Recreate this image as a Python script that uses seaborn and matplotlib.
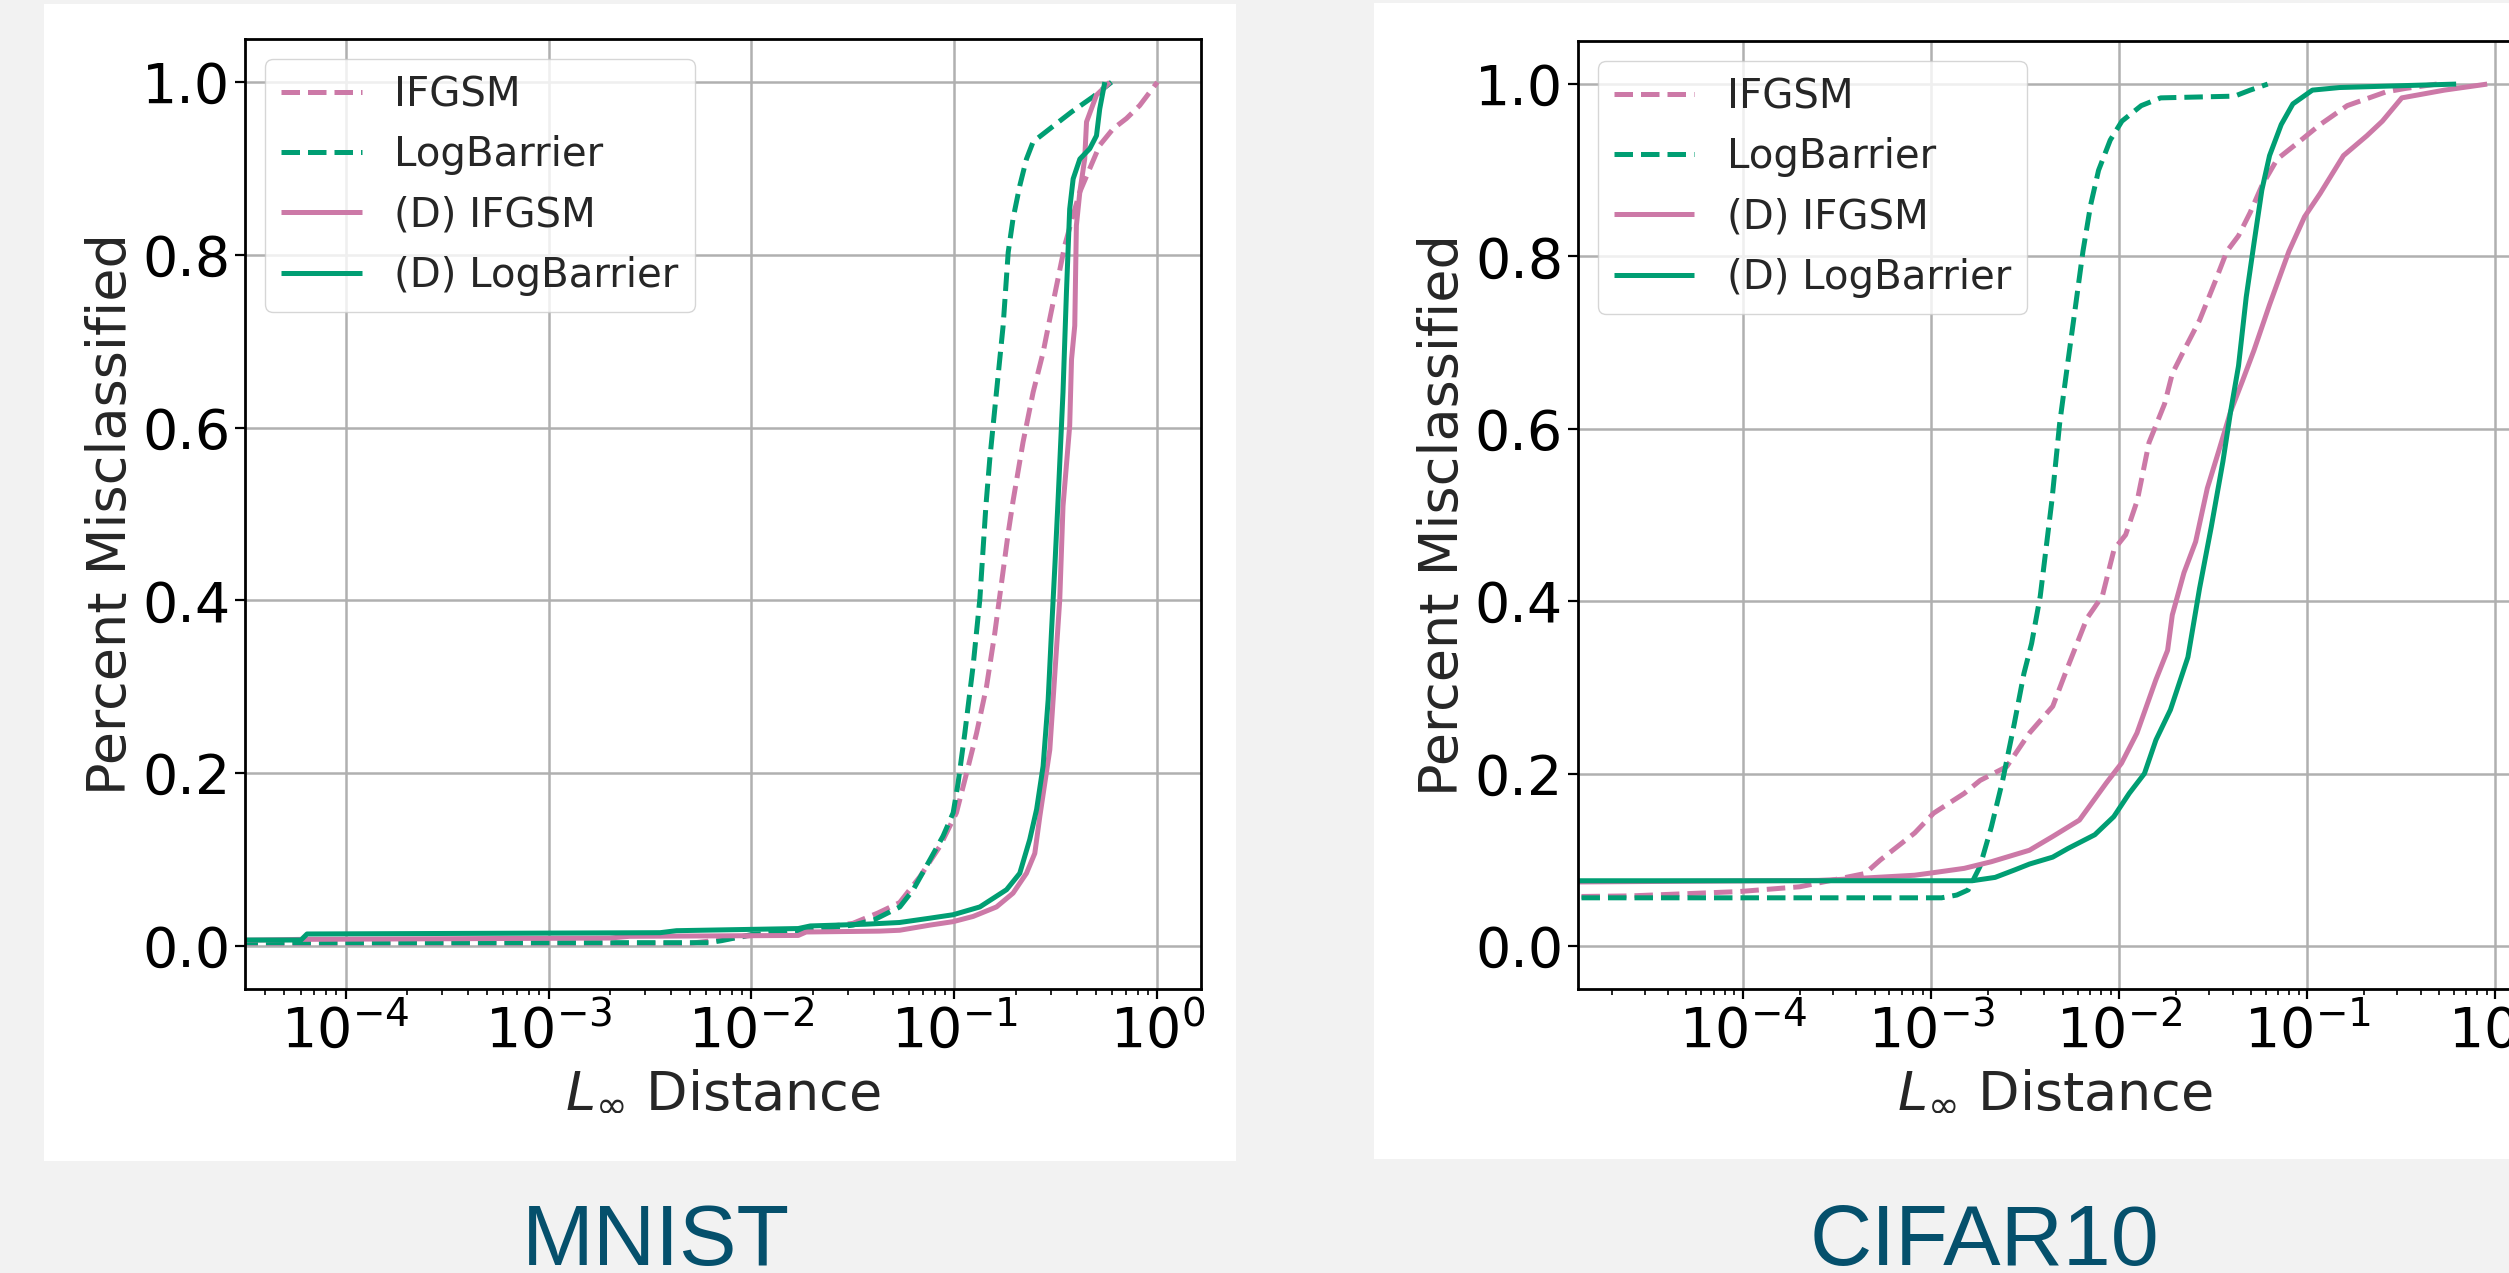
import numpy as np  # numeric helpers
import matplotlib
matplotlib.use("Agg")
import matplotlib.pyplot as plt  # figure and axes
from matplotlib.patches import Rectangle  # white panels behind the plots
import seaborn as sns  # line drawing

# ---- MNIST curves (L_inf distance, fraction misclassified) ----
mnist_ifgsm_x = [3e-5, 0.00501, 0.00708, 0.0100, 0.0200, 0.0316, 0.0420, 0.0537, 0.0676, 0.0847,
                 0.1023, 0.1148, 0.1285, 0.1439, 0.1581, 0.1706, 0.1841, 0.1945, 0.2178, 0.2443,
                 0.2735, 0.2951, 0.3184, 0.3499, 0.3846, 0.4150, 0.4645, 0.5200, 0.6053, 0.7047,
                 0.8185, 1.0]
mnist_ifgsm_y = [0.003, 0.003, 0.007, 0.012, 0.020, 0.026, 0.038, 0.050, 0.080, 0.115,
                 0.154, 0.200, 0.246, 0.300, 0.362, 0.420, 0.478, 0.515, 0.583, 0.641,
                 0.687, 0.726, 0.764, 0.811, 0.846, 0.873, 0.900, 0.927, 0.946, 0.958,
                 0.973, 1.0]

mnist_logb_x = [3e-5, 0.00615, 0.00714, 0.0100, 0.0196, 0.0316, 0.0401, 0.0538, 0.0627, 0.0757,
                0.0879, 0.0986, 0.1042, 0.1125, 0.1236, 0.1334, 0.1429, 0.1493, 0.1611, 0.1738,
                0.1841, 0.1945, 0.2099, 0.2265, 0.2443, 0.2951, 0.3776, 0.4819, 0.5943]
mnist_logb_y = [0.0036, 0.0036, 0.006, 0.013, 0.018, 0.024, 0.030, 0.045, 0.065, 0.0995,
                0.127, 0.154, 0.188, 0.246, 0.324, 0.401, 0.509, 0.563, 0.641, 0.718,
                0.803, 0.842, 0.880, 0.911, 0.931, 0.946, 0.9655, 0.983, 1.0]

mnist_d_ifgsm_x = [3e-5, 6.31e-5, 0.0020, 0.00251, 0.0170, 0.0186, 0.0427, 0.0537, 0.0759, 0.0986,
                   0.1236, 0.1611, 0.1945, 0.2265, 0.2489, 0.2636, 0.2951, 0.3304, 0.3428, 0.3698,
                   0.3776, 0.3917, 0.3990, 0.4150, 0.4385, 0.4477, 0.5012, 0.5834]
mnist_d_ifgsm_y = [0.0064, 0.0075, 0.009, 0.011, 0.012, 0.016, 0.017, 0.018, 0.024, 0.028,
                   0.034, 0.045, 0.061, 0.084, 0.107, 0.150, 0.227, 0.401, 0.509, 0.602,
                   0.679, 0.718, 0.834, 0.873, 0.911, 0.954, 0.985, 1.0]

mnist_d_logb_x = [3e-5, 6.03e-5, 6.46e-5, 0.00355, 0.00427, 0.0170, 0.0195, 0.0363, 0.0537, 0.0757,
                  0.0986, 0.1334, 0.1807, 0.2099, 0.2350, 0.2541, 0.2735, 0.2897, 0.3006, 0.3126,
                  0.3243, 0.3428, 0.3565, 0.3698, 0.3846, 0.4150, 0.4645, 0.5012, 0.5200, 0.5508]
mnist_d_logb_y = [0.0067, 0.0067, 0.0137, 0.0152, 0.0175, 0.020, 0.023, 0.025, 0.027, 0.032,
                  0.036, 0.045, 0.065, 0.084, 0.123, 0.158, 0.208, 0.285, 0.362, 0.440,
                  0.517, 0.641, 0.757, 0.853, 0.888, 0.911, 0.923, 0.938, 0.969, 1.0]

# ---- CIFAR10 curves ----
cifar_ifgsm_x = [1e-5, 2.51e-5, 9.46e-5, 2.0e-4, 4.45e-4, 5.36e-4, 8.17e-4, 1.03e-3, 1.50e-3, 1.82e-3,
                 2.52e-3, 3.33e-3, 4.43e-3, 5.33e-3, 6.73e-3, 8.13e-3, 9.38e-3, 0.01081, 0.01247, 0.01439,
                 0.01742, 0.01914, 0.02208, 0.02673, 0.03236, 0.03733, 0.04305, 0.04966, 0.05728, 0.06918,
                 0.0879, 0.1169, 0.1629, 0.2624, 0.3334, 0.4875]
cifar_ifgsm_y = [0.057, 0.058, 0.063, 0.0686, 0.084, 0.0996, 0.131, 0.154, 0.177, 0.192,
                 0.208, 0.247, 0.278, 0.324, 0.380, 0.406, 0.460, 0.477, 0.517, 0.584,
                 0.629, 0.664, 0.691, 0.726, 0.771, 0.806, 0.824, 0.851, 0.882, 0.913,
                 0.931, 0.953, 0.975, 0.991, 0.995, 1.0]

cifar_logb_x = [1e-5, 1.135e-3, 1.368e-3, 1.574e-3, 1.816e-3, 2.089e-3, 2.399e-3, 2.767e-3, 3.112e-3, 3.420e-3,
                3.802e-3, 4.385e-3, 4.819e-3, 5.297e-3, 5.834e-3, 6.412e-3, 7.047e-3, 7.762e-3, 8.954e-3, 0.01033,
                0.01309, 0.01660, 0.04102, 0.04966, 0.06152]
cifar_logb_y = [0.0558, 0.0558, 0.059, 0.065, 0.092, 0.138, 0.192, 0.258, 0.316, 0.351,
                0.406, 0.517, 0.606, 0.673, 0.740, 0.806, 0.860, 0.900, 0.935, 0.957,
                0.975, 0.984, 0.986, 0.993, 1.0]

cifar_d_ifgsm_x = [1e-5, 2.51e-4, 3.20e-4, 8.17e-4, 1.03e-3, 1.50e-3, 2.09e-3, 3.33e-3, 4.43e-3, 6.14e-3,
                   8.53e-3, 0.01028, 0.01242, 0.01567, 0.01807, 0.01914, 0.02208, 0.02547, 0.02938, 0.03388,
                   0.03908, 0.04508, 0.05200, 0.06295, 0.0798, 0.09661, 0.1169, 0.1556, 0.2070, 0.2506,
                   0.3177, 0.5358, 0.9036]
cifar_d_ifgsm_y = [0.074, 0.076, 0.077, 0.082, 0.085, 0.090, 0.0977, 0.111, 0.127, 0.146,
                   0.189, 0.212, 0.247, 0.309, 0.343, 0.384, 0.433, 0.469, 0.531, 0.575,
                   0.620, 0.655, 0.691, 0.744, 0.806, 0.846, 0.873, 0.917, 0.940, 0.957,
                   0.984, 0.993, 1.0]

cifar_d_logb_x = [1e-5, 1.652e-3, 2.188e-3, 2.767e-3, 3.334e-3, 4.426e-3, 5.333e-3, 7.413e-3, 9.354e-3, 0.01130,
                  0.01361, 0.01567, 0.01871, 0.02317, 0.02673, 0.03083, 0.03556, 0.03908, 0.04305, 0.04732,
                  0.05200, 0.05728, 0.06295, 0.07261, 0.08375, 0.1064, 0.1483, 0.6180]
cifar_d_logb_y = [0.0756, 0.0756, 0.0795, 0.088, 0.095, 0.103, 0.113, 0.129, 0.150, 0.177,
                  0.200, 0.239, 0.274, 0.335, 0.415, 0.486, 0.562, 0.620, 0.673, 0.753,
                  0.815, 0.877, 0.917, 0.953, 0.977, 0.993, 0.996, 1.0]

series_labels = ["IFGSM", "LogBarrier", "(D) IFGSM", "(D) LogBarrier"]
panel_names = ["MNIST", "CIFAR10"]

PINK = "#cc79a7"
GREEN = "#009e73"
BG = "#f2f2f2"
TITLE_COLOR = "#05506c"

sns.set_style("ticks")
plt.rcParams.update({
    "font.family": ["DejaVu Sans"],
    "axes.edgecolor": "black",
    "axes.linewidth": 2.0,
    "grid.color": "#b0b0b0",
    "grid.linewidth": 1.8,
    "xtick.major.size": 7, "xtick.major.width": 1.6,
    "xtick.minor.size": 4, "xtick.minor.width": 1.2,
    "ytick.major.size": 7, "ytick.major.width": 1.6,
    "xtick.color": "black", "ytick.color": "black",
    "lines.solid_capstyle": "butt",
})

fig = plt.figure(figsize=(25.09, 12.73), dpi=100, facecolor=BG)

# white panels (the two pasted figures)
fig.add_artist(Rectangle((0.0176, 0.0880), 0.4750, 0.9089, transform=fig.transFigure,
                         facecolor="white", edgecolor="none", zorder=-1))
fig.add_artist(Rectangle((0.5478, 0.0896), 0.5, 0.9081, transform=fig.transFigure,
                         facecolor="white", edgecolor="none", zorder=-1))

ax_m = fig.add_axes([0.0977, 0.2231, 0.3809, 0.7463])
ax_c = fig.add_axes([0.6288, 0.2231, 0.3809, 0.7447])


# Draw the four CDF curves of one panel
def draw_panel(ax, curves, xlim):
    styles = [(PINK, "--"), (GREEN, "--"), (PINK, "-"), (GREEN, "-")]
    for (xs, ys), (col, ls), lab in zip(curves, styles, series_labels):
        sns.lineplot(x=xs, y=ys, ax=ax, color=col, linestyle=ls, linewidth=3.6,
                     label=lab, estimator=None, sort=False)
    ax.set_xscale("log")
    ax.set_xlim(*xlim)
    ax.set_ylim(-0.05, 1.05)
    ax.set_yticks([0.0, 0.2, 0.4, 0.6, 0.8, 1.0])
    ax.grid(True, which="major")
    ax.tick_params(axis="both", which="major", labelsize=40, direction="out")
    ax.set_xlabel(r"$L_\infty$ Distance", fontsize=39)
    ax.set_ylabel("Percent Misclassified", fontsize=39)
    ax.legend(loc="upper left", fontsize=29, framealpha=0.8)
    for s in ax.spines.values():
        s.set_visible(True)
        s.set_color("black")


draw_panel(ax_m, [(mnist_ifgsm_x, mnist_ifgsm_y), (mnist_logb_x, mnist_logb_y),
                  (mnist_d_ifgsm_x, mnist_d_ifgsm_y), (mnist_d_logb_x, mnist_d_logb_y)],
           (3.2e-5, 1.637))
draw_panel(ax_c, [(cifar_ifgsm_x, cifar_ifgsm_y), (cifar_logb_x, cifar_logb_y),
                  (cifar_d_ifgsm_x, cifar_d_ifgsm_y), (cifar_d_logb_x, cifar_d_logb_y)],
           (1.32e-5, 1.59))

# dataset captions under the panels
fig.text(0.2615, 0.0065, panel_names[0], ha="center", va="baseline", fontsize=62,
         color=TITLE_COLOR, family=["Liberation Sans", "DejaVu Sans"])
fig.text(0.7908, 0.0065, panel_names[1], ha="center", va="baseline", fontsize=62,
         color=TITLE_COLOR, family=["Liberation Sans", "DejaVu Sans"])

fig.savefig("out.png", dpi=100, facecolor=BG)
